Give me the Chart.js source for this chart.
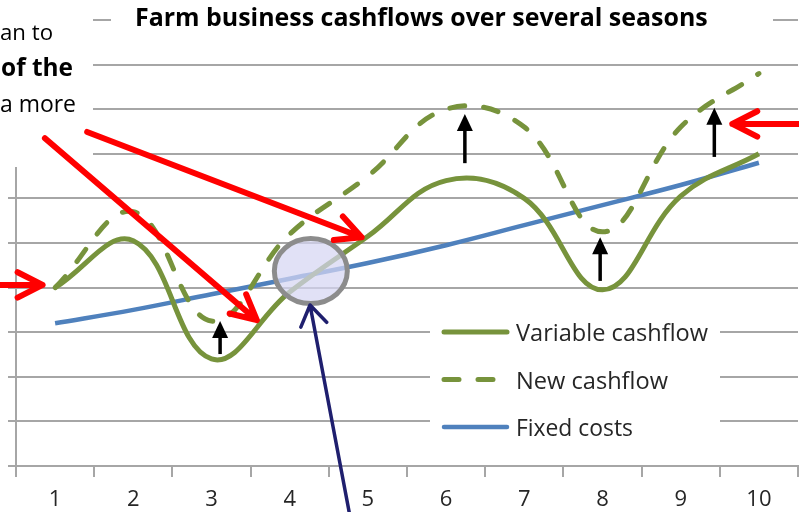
<!DOCTYPE html>
<html>
<head>
<meta charset="utf-8">
<script src="https://cdn.jsdelivr.net/npm/chart.js@4.4.1/dist/chart.umd.min.js"></script>
<style>
  html, body { margin: 0; padding: 0; background: #fff; }
  #wrap { width: 799px; height: 512px; }
</style>
</head>
<body>
<div id="wrap"><canvas id="cashChart" width="799" height="512"></canvas></div>
<script>
const seasons = ['1', '2', '3', '4', '5', '6', '7', '8', '9', '10'];
const variableCashflow = [4.0, 5.05, 2.4, 3.9, 5.15, 6.4, 6.0, 3.95, 6.05, 7.0];
const newCashflow = [4.0, 5.7, 3.25, 5.2, 6.5, 8.0, 7.6, 5.25, 7.6, 8.8];
const fixedCosts = [3.2, 3.5, 3.85, 4.2, 4.55, 4.95, 5.4, 5.85, 6.3, 6.8];
const yMin = 0, yMax = 10, yStep = 1;

const chartTitle = 'Farm business cashflows over several seasons';
// tail ends of the text box lines sitting left of the chart
const noteLines = [
  { text: 'an to', bold: false },
  { text: 'of the', bold: true },
  { text: 'a more', bold: false }
];

// annotations in (category index, value) units
const redArrows = [
  [-0.73, 4.06, -0.16, 4.06],
  [-0.13, 7.35, 2.58, 3.27],
  [0.41, 7.49, 3.92, 5.13],
  [9.59, 7.67, 8.66, 7.67]
];
const upArrows = [
  [2.11, 2.51, 3.25],
  [5.24, 6.79, 7.89],
  [6.97, 4.15, 5.13],
  [8.43, 6.93, 8.03]
];
const crossing = { i: 3.27, v: 4.37 };
const pointer = [3.77, -1.12, 3.26, 3.61];

const FONT = '"Open Sans", Lato, sans-serif';
const gridColor = '#a6a6a6';
const green = '#77933c';
const blue = '#4f81bd';

// pick the font size that makes a label span the given width
function fitText(ctx, text, weight, width) {
  ctx.font = weight + ' 20px ' + FONT;
  const size = 20 * width / ctx.measureText(text).width;
  ctx.font = weight + ' ' + size.toFixed(2) + 'px ' + FONT;
}

function openArrow(ctx, x1, y1, x2, y2, head, spread, color, width) {
  const a = Math.atan2(y2 - y1, x2 - x1);
  ctx.strokeStyle = color;
  ctx.lineWidth = width;
  ctx.lineCap = 'round';
  ctx.lineJoin = 'round';
  ctx.beginPath();
  ctx.moveTo(x1, y1);
  ctx.lineTo(x2, y2);
  ctx.moveTo(x2 - head * Math.cos(a - spread), y2 - head * Math.sin(a - spread));
  ctx.lineTo(x2, y2);
  ctx.lineTo(x2 - head * Math.cos(a + spread), y2 - head * Math.sin(a + spread));
  ctx.stroke();
}

function blockArrow(ctx, x, yBase, yTip) {
  const head = 17, half = 8;
  ctx.strokeStyle = '#000';
  ctx.fillStyle = '#000';
  ctx.lineWidth = 3.5;
  ctx.lineCap = 'butt';
  ctx.beginPath();
  ctx.moveTo(x, yBase);
  ctx.lineTo(x, yTip + head - 1);
  ctx.stroke();
  ctx.beginPath();
  ctx.moveTo(x, yTip);
  ctx.lineTo(x + half, yTip + head);
  ctx.lineTo(x - half, yTip + head);
  ctx.closePath();
  ctx.fill();
}

const overlay = {
  id: 'overlay',
  afterDraw(chart) {
    const ctx = chart.ctx;
    const xs = chart.scales.x, ys = chart.scales.y;
    const px = i => xs.getPixelForValue(i);
    const py = v => ys.getPixelForValue(v);
    ctx.save();

    // white panels for the text box and the title
    ctx.fillStyle = '#fff';
    ctx.fillRect(0, 0, 93, 167);
    ctx.fillRect(111, 0, 662, 44);

    ctx.fillStyle = '#000';
    ctx.textBaseline = 'alphabetic';
    ctx.textAlign = 'left';
    fitText(ctx, chartTitle, 'bold', 573);
    ctx.fillText(chartTitle, 135, 26);

    ctx.textAlign = 'right';
    const noteEnds = [53, 73, 76];
    const noteWidths = [53, 72, 76];
    noteLines.forEach((ln, k) => {
      fitText(ctx, ln.text, ln.bold ? 'bold' : 'normal', noteWidths[k]);
      ctx.fillText(ln.text, noteEnds[k], 40 + k * 36);
    });

    // legend inside the plot
    ctx.fillStyle = '#fff';
    ctx.fillRect(430, 304, 290, 144);
    const legendWidths = [192, 152, 117];
    chart.data.datasets.forEach((ds, k) => {
      const y = 332 + k * 47.5;
      ctx.strokeStyle = ds.borderColor;
      ctx.lineWidth = ds.borderWidth;
      ctx.lineCap = 'round';
      ctx.setLineDash(ds.borderDash || []);
      ctx.beginPath();
      ctx.moveTo(444, y);
      ctx.lineTo(507, y);
      ctx.stroke();
      ctx.setLineDash([]);
      ctx.fillStyle = '#262626';
      ctx.textAlign = 'left';
      fitText(ctx, ds.label, 'normal', legendWidths[k]);
      ctx.fillText(ds.label, 516, y + 9);
    });

    // highlighted crossing point
    ctx.beginPath();
    ctx.ellipse(px(crossing.i), py(crossing.v), 36.5, 32.5, 0, 0, Math.PI * 2);
    ctx.fillStyle = 'rgba(214, 214, 242, 0.72)';
    ctx.fill();
    ctx.strokeStyle = '#8c8c8c';
    ctx.lineWidth = 5;
    ctx.stroke();

    redArrows.forEach(a => openArrow(ctx, px(a[0]), py(a[1]), px(a[2]), py(a[3]), 28, 0.47, '#ff0000', 6));
    upArrows.forEach(a => blockArrow(ctx, px(a[0]), py(a[1]), py(a[2])));
    openArrow(ctx, px(pointer[0]), py(pointer[1]), px(pointer[2]), py(pointer[3]), 24, 0.58, '#1f1f6e', 3.5);

    ctx.restore();
  }
};

new Chart(document.getElementById('cashChart'), {
  type: 'line',
  data: {
    labels: seasons,
    datasets: [
      { label: 'Variable cashflow', data: variableCashflow, borderColor: green, borderWidth: 5 },
      { label: 'New cashflow', data: newCashflow, borderColor: green, borderWidth: 5, borderDash: [15, 19], borderCapStyle: 'round' },
      { label: 'Fixed costs', data: fixedCosts, borderColor: blue, borderWidth: 4.5 }
    ]
  },
  options: {
    responsive: false,
    animation: false,
    layout: { padding: { top: 20, right: 1, left: 0, bottom: 0 } },
    elements: { point: { radius: 0 }, line: { tension: 0.4, fill: false } },
    plugins: { legend: { display: false }, title: { display: false }, tooltip: { enabled: false } },
    scales: {
      x: {
        offset: true,
        grid: { offset: true, drawOnChartArea: false, tickLength: 11, color: gridColor, lineWidth: 2 },
        border: { color: gridColor, width: 2 },
        ticks: { color: '#262626', font: { family: FONT, size: 22 }, padding: 10, maxRotation: 0 },
        afterFit: s => { s.height = 46; }
      },
      y: {
        min: yMin,
        max: yMax,
        ticks: { stepSize: yStep, display: false },
        grid: { tickLength: 8, color: gridColor, lineWidth: 2 },
        border: { color: gridColor, width: 2 },
        afterFit: s => { s.width = 16; }
      }
    }
  },
  plugins: [overlay]
});
</script>
</body>
</html>
